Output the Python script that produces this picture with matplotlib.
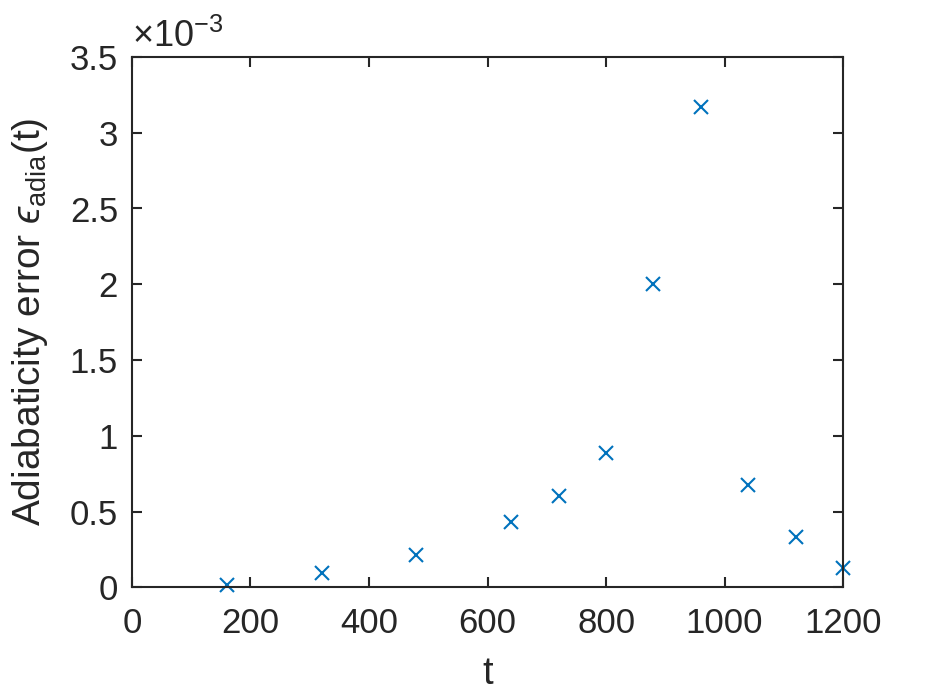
import numpy as np
import matplotlib
matplotlib.use("Agg")
import matplotlib.pyplot as plt
from matplotlib.ticker import FuncFormatter

# data
t = [160, 320, 480, 640, 720, 800, 880, 960, 1040, 1120, 1200]
err = [0.015e-3, 0.092e-3, 0.211e-3, 0.43e-3, 0.60e-3, 0.885e-3,
       2.0e-3, 3.168e-3, 0.676e-3, 0.33e-3, 0.126e-3]

plt.rcParams.update({
    'font.family': ['Liberation Sans', 'DejaVu Sans'],
    'mathtext.fontset': 'custom',
    'mathtext.rm': 'Liberation Sans',
    'mathtext.it': 'Liberation Sans:italic',
    'mathtext.sf': 'Liberation Sans',
    'mathtext.fallback': 'stixsans',
})

axcol = '#262626'
fig = plt.figure(figsize=(9.26, 6.95), dpi=100)
ax = fig.add_axes([0.1425, 0.155, 0.768, 0.763])

ax.plot(t, err, 'x', color='#0072BD', markersize=10, markeredgewidth=1.5, clip_on=False)

ax.set_xlim(0, 1200)
ax.set_ylim(0, 3.5e-3)
ax.set_xticks(np.arange(0, 1201, 200))
ax.set_yticks(np.arange(0, 3.51e-3, 0.5e-3))
ax.yaxis.set_major_formatter(FuncFormatter(lambda v, p: f'{v*1e3:g}'))

for s in ax.spines.values():
    s.set_color(axcol)
    s.set_linewidth(1.5)
ax.tick_params(direction='in', top=True, right=True, length=7, width=1.5,
               colors=axcol, labelsize=25)
ax.tick_params(axis='x', pad=14)
ax.tick_params(axis='y', pad=10)

ax.set_xlabel('t', fontsize=27.5, color=axcol, labelpad=12)
ax.set_ylabel('Adiabaticity error $\u03f5_{\\mathrm{adia}}$(t)', fontsize=28,
              color=axcol, labelpad=14)
ax.text(0.0, 1.004, '\u00d710$^{-3}$', transform=ax.transAxes, fontsize=26,
        color=axcol, ha='left', va='bottom')

fig.savefig('out.png', dpi=100)
